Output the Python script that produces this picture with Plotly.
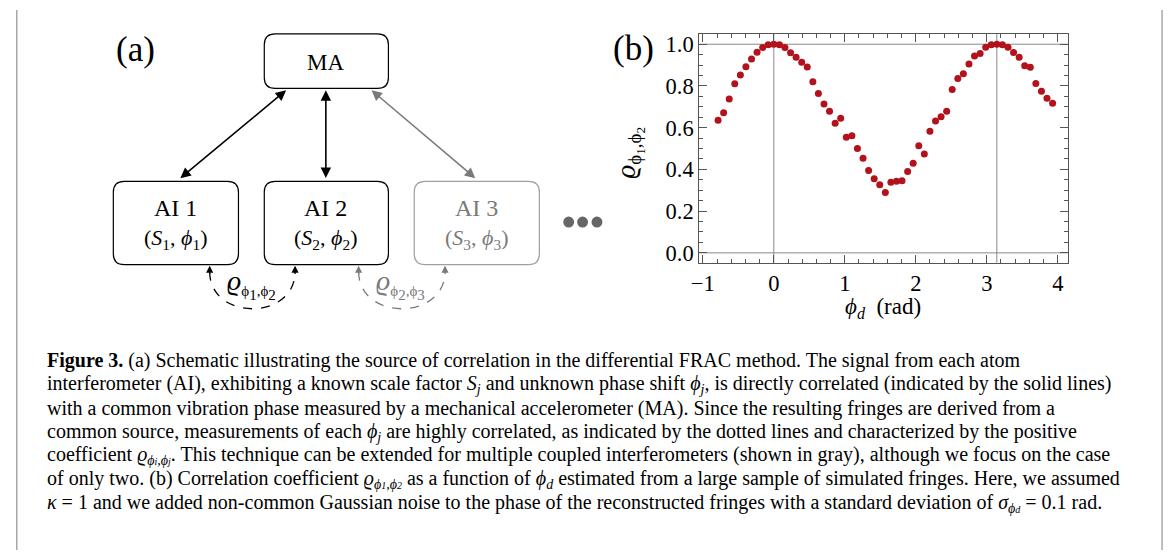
import plotly.graph_objects as go

# ---------------- data (panel b) ----------------
phi_d = [-0.785, -0.707, -0.628, -0.550, -0.471, -0.393, -0.314, -0.236, -0.157, -0.079,
         0.000, 0.079, 0.157, 0.236, 0.314, 0.393, 0.471, 0.550, 0.628, 0.707,
         0.785, 0.864, 0.942, 1.021, 1.100, 1.178, 1.257, 1.335, 1.414, 1.492,
         1.571, 1.649, 1.728, 1.806, 1.885, 1.963, 2.042, 2.120, 2.199, 2.278,
         2.356, 2.435, 2.513, 2.592, 2.670, 2.749, 2.827, 2.906, 2.985, 3.063,
         3.142, 3.220, 3.299, 3.377, 3.456, 3.534, 3.613, 3.691, 3.770, 3.848, 3.927]
rho = [0.636, 0.671, 0.737, 0.810, 0.853, 0.892, 0.929, 0.962, 0.984, 0.997,
       1.000, 0.997, 0.984, 0.959, 0.937, 0.913, 0.891, 0.820, 0.764, 0.714,
       0.679, 0.621, 0.645, 0.554, 0.561, 0.500, 0.453, 0.395, 0.355, 0.327,
       0.289, 0.338, 0.343, 0.346, 0.390, 0.430, 0.513, 0.474, 0.583, 0.632,
       0.652, 0.679, 0.783, 0.836, 0.858, 0.905, 0.943, 0.955, 0.986, 0.997,
       1.000, 0.997, 0.986, 0.960, 0.937, 0.897, 0.889, 0.812, 0.775, 0.741, 0.717]
x_ticks = [-1, 0, 1, 2, 3, 4]
y_ticks = [0.0, 0.2, 0.4, 0.6, 0.8, 1.0]
y_tick_labels = ["0.0", "0.2", "0.4", "0.6", "0.8", "1.0"]
ref_x = [0.0, 3.14159]
ref_y = [0.0, 1.0]

SS = '<span style="font-size:10px">'
caption_lines = [
    "<b>Figure 3.</b> (a) Schematic illustrating the source of correlation in the differential FRAC method. The signal from each atom",
    "interferometer (AI), exhibiting a known scale factor <i>S<sub>j</sub></i> and unknown phase shift <i>ϕ<sub>j</sub></i>, is directly correlated (indicated by the solid lines)",
    "with a common vibration phase measured by a mechanical accelerometer (MA). Since the resulting fringes are derived from a",
    "common source, measurements of each <i>ϕ<sub>j</sub></i> are highly correlated, as indicated by the dotted lines and characterized by the positive",
    f"coefficient <i>ϱ<sub>ϕ{SS}i</span>,ϕ{SS}j</span></sub></i>. This technique can be extended for multiple coupled interferometers (shown in gray), although we focus on the case",
    f"of only two. (b) Correlation coefficient <i>ϱ<sub>ϕ{SS}1</span>,ϕ{SS}2</span></sub></i> as a function of <i>ϕ<sub>d</sub></i> estimated from a large sample of simulated fringes. Here, we assumed",
    f"<i>κ</i> = 1 and we added non-common Gaussian noise to the phase of the reconstructed fringes with a standard deviation of <i>σ<sub>ϕ{SS}d</span></sub></i> = 0.1 rad.",
]

OFF = 8                      # default page body margin
SW, SH = 1171, 553           # screen size
W, H = SW - OFF, SH - OFF    # figure size
SERIF = "Liberation Serif"
GRAY = "#7a7a7a"
AX = "#555555"

fig = go.Figure()

fig.add_trace(go.Scatter(x=phi_d, y=rho, mode="markers",
                         marker=dict(color="#b3121c", size=7),
                         xaxis="x", yaxis="y", showlegend=False, hoverinfo="skip"))
fig.add_trace(go.Scatter(x=[None], y=[None], xaxis="x2", yaxis="y2",
                         showlegend=False, hoverinfo="skip"))

shapes = []
ann = []

for v in ref_x:
    shapes.append(dict(type="line", xref="x", yref="y domain", x0=v, x1=v, y0=0, y1=1,
                       line=dict(color="#8a8a8a", width=1), layer="below"))
for v in ref_y:
    shapes.append(dict(type="line", xref="x domain", yref="y", x0=0, x1=1, y0=v, y1=v,
                       line=dict(color="#8a8a8a", width=1), layer="below"))


def rr(x0, y0, x1, y1, r=11):
    return (f"M {x0+r},{y0} L {x1-r},{y0} Q {x1},{y0} {x1},{y0+r} L {x1},{y1-r} "
            f"Q {x1},{y1} {x1-r},{y1} L {x0+r},{y1} Q {x0},{y1} {x0},{y1-r} "
            f"L {x0},{y0+r} Q {x0},{y0} {x0+r},{y0} Z")


def P(**kw):
    d = dict(xref="x2", yref="y2")
    d.update(kw)
    return d

# outer frame (left and right edges)
shapes.append(P(type="line", x0=8.8, x1=8.8, y0=0, y1=SH, line=dict(color="#9a9a9a", width=1.3)))
shapes.append(P(type="line", x0=1162, x1=1162, y0=0, y1=SH, line=dict(color="#9a9a9a", width=1.3)))

boxes = [((258, 32, 383, 87), "black"), ((106, 181, 232, 265), "black"),
         ((258, 181, 383, 265), "black"), ((409, 181, 535, 265), "#a0a0a0")]
for (x0, y0, x1, y1), c in boxes:
    shapes.append(P(type="path", path=rr(x0, y0, x1, y1), line=dict(color=c, width=1.2)))

for cx in [564.5, 578.5, 593]:
    shapes.append(P(type="circle", x0=cx - 5.5, x1=cx + 5.5, y0=222 - 5.5, y1=222 + 5.5,
                    fillcolor="#666666", line=dict(width=0)))

shapes.append(P(type="path", path="M 203,272 C 203,322 289,322 289,272",
                line=dict(color="black", width=1.3, dash="dash")))
shapes.append(P(type="path", path="M 353,272 C 353,322 440,322 440,272",
                line=dict(color=GRAY, width=1.3, dash="dash")))


def arrow(x, y, ax, ay, color, width=1.6, both=True, size=1.3):
    ann.append(P(x=x, y=y, ax=ax, ay=ay, axref="x2", ayref="y2", text="",
                 showarrow=True, arrowhead=2, startarrowhead=2, arrowsize=size,
                 startarrowsize=size, arrowwidth=width, arrowcolor=color,
                 arrowside="end+start" if both else "end", standoff=0, startstandoff=0))

arrow(280, 89, 172, 179, "black")
arrow(320, 89, 320, 179, "black")
arrow(366, 89, 472, 179, GRAY)
arrow(203, 266, 203, 276, "black", width=1.3, both=False, size=1.1)
arrow(289, 266, 289, 276, "black", width=1.3, both=False, size=1.1)
arrow(353, 266, 353, 276, GRAY, width=1.3, both=False, size=1.1)
arrow(440, 266, 440, 276, GRAY, width=1.3, both=False, size=1.1)


def txt(x, y, t, size, color="black", xanchor="center", angle=0):
    ann.append(P(x=x, y=y, text=t, showarrow=False, xanchor=xanchor, yanchor="middle",
                 textangle=angle, font=dict(family=SERIF, size=size, color=color)))


def rho_lbl(a, b, sub_px):
    s = f'<span style="font-size:{sub_px}px">'
    return (f"<i>ϱ</i><sub>{s}ϕ</span><sub>{s}{a}</span></sub>{s},ϕ</span>"
            f"<sub>{s}{b}</span></sub></sub>")

txt(128, 48, "(a)", 35)
txt(320, 61, "MA", 23)
txt(169, 208, "AI 1", 24)
txt(169, 239, "(<i>S</i><sub>1</sub>, <i>ϕ</i><sub>1</sub>)", 22)
txt(320, 208, "AI 2", 24)
txt(320, 239, "(<i>S</i><sub>2</sub>, <i>ϕ</i><sub>2</sub>)", 22)
txt(472, 208, "AI 3", 24, GRAY)
txt(472, 239, "(<i>S</i><sub>3</sub>, <i>ϕ</i><sub>3</sub>)", 22, GRAY)
txt(245, 285, rho_lbl(1, 2, 15), 28)
txt(395, 285, rho_lbl(2, 3, 15), 28, GRAY)

txt(630, 47, "(b)", 35)
txt(881, 309, "<i>ϕ</i><sub><i>d</i></sub>\u00a0\u00a0(rad)", 23)
txt(626, 152, "<i>ϱ</i><sub>ϕ<sub>1</sub>,ϕ<sub>2</sub></sub>", 27, angle=-90)

for i, line in enumerate(caption_lines):
    ann.append(P(x=37, y=362 + 24 * i, text=line, showarrow=False, xanchor="left",
                 yanchor="middle", font=dict(family=SERIF, size=20, color="black")))

axis_common = dict(showline=True, linecolor=AX, linewidth=1.2, mirror="allticks",
                   ticks="inside", ticklen=8, tickcolor=AX, tickwidth=1,
                   showgrid=False, zeroline=False,
                   tickfont=dict(family=SERIF, size=22.5, color="black"))

fig.update_layout(
    width=W, height=H, margin=dict(l=0, r=0, t=0, b=0),
    paper_bgcolor="white", plot_bgcolor="rgba(0,0,0,0)",
    xaxis=dict(domain=[(696 - OFF) / W, (1067 - OFF) / W], range=[-1.05, 4.14], anchor="y",
               tickvals=x_ticks,
               minor=dict(ticks="inside", ticklen=4, dtick=0.2, tick0=0, tickcolor=AX, showgrid=False),
               **axis_common),
    yaxis=dict(domain=[1 - (263 - OFF) / H, 1 - (32 - OFF) / H], range=[-0.047, 1.05], anchor="x",
               tickvals=y_ticks, ticktext=y_tick_labels,
               minor=dict(ticks="inside", ticklen=4, dtick=0.05, tick0=0, tickcolor=AX, showgrid=False),
               **axis_common),
    xaxis2=dict(domain=[0, 1], range=[OFF, OFF + W], anchor="y2", visible=False, fixedrange=True),
    yaxis2=dict(domain=[0, 1], range=[OFF + H, OFF], anchor="x2", visible=False, fixedrange=True),
    shapes=shapes, annotations=ann,
)

fig.write_html("out.html")
